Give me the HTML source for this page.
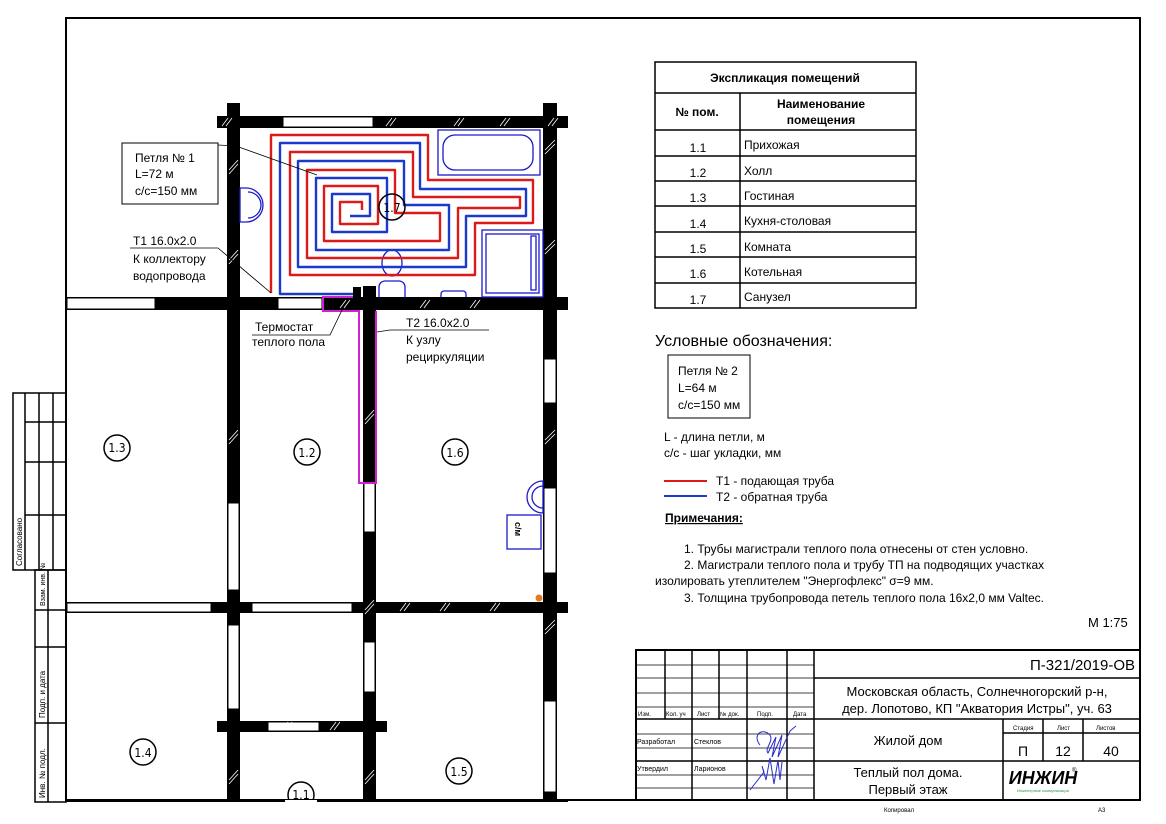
<!DOCTYPE html>
<html><head><meta charset="utf-8"><style>
html,body{margin:0;padding:0;background:#fff;}
svg{display:block;font-family:"Liberation Sans",Arial,sans-serif;}
</style></head><body>
<svg width="1166" height="824" viewBox="0 0 1166 824" xmlns="http://www.w3.org/2000/svg">
<rect width="1166" height="824" fill="#fff"/>
<rect x="66" y="18" width="1074" height="782" fill="none" stroke="#000" stroke-width="2"/>
<g stroke="#000" stroke-width="1.5" fill="none">
<rect x="13" y="393" width="53" height="177"/>
<line x1="25" y1="393" x2="25" y2="570"/><line x1="39" y1="393" x2="39" y2="570"/><line x1="53" y1="393" x2="53" y2="570"/>
<line x1="25" y1="422" x2="66" y2="422"/><line x1="25" y1="462" x2="66" y2="462"/><line x1="25" y1="515" x2="66" y2="515"/>
<rect x="35" y="570" width="31" height="232"/>
<line x1="48" y1="570" x2="48" y2="802"/>
<line x1="35" y1="610" x2="66" y2="610"/><line x1="35" y1="647" x2="66" y2="647"/><line x1="35" y1="723" x2="66" y2="723"/>
</g>
<g font-size="8" fill="#000">
<text transform="translate(22,566) rotate(-90)">Согласовано</text>
<text transform="translate(45,606) rotate(-90)" font-size="7">Взам. инв. №</text>
<text transform="translate(45,718) rotate(-90)">Подп. и дата</text>
<text transform="translate(45,798) rotate(-90)">Инв. № подл.</text>
</g>

<g fill="#000">
<rect x="227" y="103" width="13" height="697"/>
<rect x="543" y="103" width="14" height="697"/>
<rect x="217" y="116" width="351" height="12"/>
<rect x="66" y="297" width="502" height="13"/>
<rect x="363" y="286" width="13" height="514"/>
<rect x="66" y="602" width="502" height="11"/>
<rect x="217" y="721" width="170" height="11"/>
</g>
<g fill="#fff" stroke="#000" stroke-width="1">
<rect x="283" y="117" width="90" height="10"/>
<rect x="67" y="298" width="88" height="11"/>
<rect x="278" y="298" width="44" height="11"/>
<rect x="364" y="311" width="11" height="221"/>
<rect x="67" y="603" width="144" height="9"/>
<rect x="252" y="603" width="100" height="9"/>
<rect x="228" y="503" width="11" height="87"/>
<rect x="228" y="625" width="11" height="84"/>
<rect x="364" y="642" width="11" height="50"/>
<rect x="268" y="722" width="51" height="9"/>
<rect x="544" y="359" width="12" height="44"/>
<rect x="544" y="488" width="12" height="85"/>
<rect x="544" y="701" width="12" height="91"/>
</g>
<rect x="364" y="311" width="11" height="172" fill="#000"/>
<line x1="66" y1="801" x2="568" y2="801" stroke="#000" stroke-width="2"/>
<g stroke="#fff" stroke-width="0.8">
<path d="M222,126l6,-8M226,126l6,-8M386,126l6,-8M390,126l6,-8M454,126l6,-8M458,126l6,-8M500,126l6,-8M504,126l6,-8M548,126l6,-8M552,126l6,-8M229,170l9,-10M229,174l9,-10M229,260l9,-10M229,264l9,-10M545,150l10,-10M545,154l10,-10M545,250l10,-10M545,254l10,-10M545,440l10,-10M545,444l10,-10M545,630l10,-10M545,634l10,-10M365,420l9,-10M365,424l9,-10M365,610l9,-10M365,614l9,-10M229,440l9,-10M229,444l9,-10M229,780l9,-10M229,784l9,-10M365,780l9,-10M365,784l9,-10M400,611l6,-8M404,611l6,-8M440,611l6,-8M444,611l6,-8M490,611l6,-8M494,611l6,-8M282,730l6,-8M286,730l6,-8M330,730l6,-8M334,730l6,-8M340,308l6,-8M344,308l6,-8M420,308l6,-8M424,308l6,-8M470,308l6,-8M474,308l6,-8"/>
</g>

<g fill="none" stroke="#1a1acc" stroke-width="1.3">
<rect x="438" y="130" width="102" height="45"/>
<rect x="443" y="135" width="90" height="35" rx="12"/>
<rect x="482" y="230" width="61" height="67"/>
<rect x="486" y="234" width="53" height="59"/>
<rect x="531" y="236" width="5" height="54"/>
<path d="M240,188 h6 a17,17 0 0 1 0,34 h-6 z"/><path d="M248,192 a13,13 0 0 1 0,26"/>
<ellipse cx="392" cy="263" rx="10" ry="13"/>
<path d="M379,297 v-10 a6,6 0 0 1 6,-6 h14 a6,6 0 0 1 6,6 v10"/>
<path d="M441,297 v-3 a3,3 0 0 1 3,-3 h19 a3,3 0 0 1 3,3 v3"/>
<path d="M543,481 a14,14 0 0 0 0,32 z"/><path d="M543,486 a10,10 0 0 0 0,22"/>
<rect x="507" y="515" width="34" height="34"/>
</g>
<text transform="translate(515,522) rotate(90)" font-size="9" font-weight="bold">с/м</text>
<circle cx="539" cy="598" r="3.5" fill="#e07a20"/>

<g fill="none" stroke-width="2.4" stroke-linejoin="round">
<polyline stroke="#dd1a1a" points="271,293 271,135 428,135 428,180 533,180 533,223 475,223 475,275 290,275 290,152 413,152 413,197 520,197 520,208 458,208 458,258 307,258 307,170 395,170 395,213 440,213 440,241 324,241 324,186 378,186 378,224 340,224 340,202 362,202 362,210"/>
<polyline stroke="#1a3acc" points="353,294 280,294 280,143 420,143 420,189 526,189 526,216 466,216 466,267 298,267 298,161 404,161 404,205 449,205 449,250 316,250 316,178 387,178 387,232 332,232 332,194 370,194 370,216 350,216"/>
</g>
<polyline fill="none" stroke="#d020d0" stroke-width="2" points="353,297 323,297 323,311 359,311 359,483 376,483 376,311"/>
<rect x="353" y="287" width="8" height="10" fill="#000"/>

<g fill="none" stroke="#000" stroke-width="1.5">
<circle cx="117" cy="448" r="13"/><circle cx="307" cy="452" r="13"/><circle cx="455" cy="452" r="13"/>
<circle cx="392" cy="207" r="13"/><circle cx="143" cy="752" r="13"/><circle cx="459" cy="771" r="13"/>
<circle cx="301" cy="795" r="13"/>
</g>
<rect x="285" y="800" width="32" height="10" fill="#fff"/>
<g font-size="12" text-anchor="middle" font-family="'DejaVu Sans Condensed','Liberation Sans',sans-serif">
<text x="117" y="452">1.3</text><text x="307" y="457">1.2</text><text x="455" y="457">1.6</text>
<text x="392" y="212">1.7</text><text x="143" y="757">1.4</text><text x="459" y="776">1.5</text><text x="301" y="799">1.1</text>
</g>

<rect x="122" y="143" width="96" height="61" fill="#fff" stroke="#000" stroke-width="1"/>
<g stroke="#000" stroke-width="0.8" fill="none">
<polyline points="218,145 236,146 317,175"/>
<polyline points="130,248 218,248 271,293"/>
<polyline points="252,335 330,335 342,310"/>
<polyline points="377,332 390,330 489,330"/>
</g>
<g font-size="12" fill="#000">
<text x="135" y="162">Петля № 1</text><text x="135" y="178">L=72 м</text><text x="135" y="195">с/с=150 мм</text>
<text x="133" y="245">Т1 16.0x2.0</text><text x="133" y="263">К коллектору</text><text x="133" y="280">водопровода</text>
<text x="255" y="331">Термостат</text><text x="252" y="346">теплого пола</text>
<text x="406" y="327">Т2 16.0x2.0</text><text x="406" y="344">К узлу</text><text x="406" y="361">рециркуляции</text>
</g>

<g stroke="#000" stroke-width="1.5" fill="none">
<rect x="655" y="62" width="261" height="246"/>
<line x1="655" y1="93" x2="916" y2="93"/><line x1="655" y1="130" x2="916" y2="130"/>
<line x1="655" y1="156" x2="916" y2="156"/><line x1="655" y1="181" x2="916" y2="181"/>
<line x1="655" y1="206" x2="916" y2="206"/><line x1="655" y1="232" x2="916" y2="232"/>
<line x1="655" y1="257" x2="916" y2="257"/><line x1="655" y1="283" x2="916" y2="283"/>
<line x1="740" y1="93" x2="740" y2="308"/>
</g>
<g font-size="12" fill="#000">
<text x="785" y="82" text-anchor="middle" font-weight="bold">Экспликация помещений</text>
<text x="697" y="116" text-anchor="middle" font-weight="bold">№ пом.</text>
<text x="821" y="108" text-anchor="middle" font-weight="bold">Наименование</text>
<text x="821" y="124" text-anchor="middle" font-weight="bold">помещения</text>
<g text-anchor="middle"><text x="698" y="152">1.1</text><text x="698" y="177">1.2</text><text x="698" y="202">1.3</text><text x="698" y="228">1.4</text><text x="698" y="253">1.5</text><text x="698" y="278">1.6</text><text x="698" y="304">1.7</text></g>
<text x="744" y="149">Прихожая</text><text x="744" y="175">Холл</text><text x="744" y="200">Гостиная</text><text x="744" y="225">Кухня-столовая</text><text x="744" y="251">Комната</text><text x="744" y="276">Котельная</text><text x="744" y="301">Санузел</text>
</g>

<text x="655" y="346" font-size="16">Условные обозначения:</text>
<rect x="668" y="355" width="82" height="63" fill="none" stroke="#000" stroke-width="1"/>
<g font-size="12">
<text x="678" y="375">Петля № 2</text><text x="678" y="392">L=64 м</text><text x="678" y="409">с/с=150 мм</text>
<text x="664" y="441">L - длина петли, м</text><text x="664" y="457">с/с - шаг укладки, мм</text>
<text x="716" y="485">Т1 - подающая труба</text><text x="716" y="501">Т2 - обратная труба</text>
<text x="665" y="522" font-weight="bold" text-decoration="underline">Примечания:</text>
<text x="684" y="553">1.   Трубы магистрали теплого пола отнесены от стен условно.</text>
<text x="684" y="569">2.   Магистрали теплого пола и трубу ТП на подводящих участках</text>
<text x="655" y="585">изолировать утеплителем "Энергофлекс" σ=9 мм.</text>
<text x="684" y="602">3.   Толщина трубопровода петель теплого пола 16х2,0 мм Valtec.</text>
<text x="1088" y="627" font-size="13">М 1:75</text>
</g>
<line x1="664" y1="481" x2="707" y2="481" stroke="#dd1a1a" stroke-width="2"/>
<line x1="664" y1="496" x2="707" y2="496" stroke="#1a3acc" stroke-width="2"/>

<g stroke="#000" fill="none">
<rect x="636" y="650" width="504" height="150" stroke-width="2"/>
<g stroke-width="1.5">
<line x1="665" y1="650" x2="665" y2="719"/><line x1="692" y1="650" x2="692" y2="800"/><line x1="719" y1="650" x2="719" y2="719"/>
<line x1="747" y1="650" x2="747" y2="800"/><line x1="787" y1="650" x2="787" y2="800"/><line x1="814" y1="650" x2="814" y2="800"/>
<line x1="814" y1="678" x2="1140" y2="678"/><line x1="814" y1="719" x2="1140" y2="719"/><line x1="814" y1="761" x2="1140" y2="761"/>
<line x1="1003" y1="719" x2="1003" y2="800"/><line x1="1043" y1="719" x2="1043" y2="761"/><line x1="1083" y1="719" x2="1083" y2="761"/>
<line x1="1003" y1="733" x2="1140" y2="733"/>
<line x1="636" y1="719" x2="814" y2="719"/><line x1="636" y1="761" x2="814" y2="761"/>
</g>
<g stroke-width="0.8">
<line x1="636" y1="665" x2="814" y2="665"/><line x1="636" y1="678" x2="814" y2="678"/><line x1="636" y1="693" x2="814" y2="693"/><line x1="636" y1="707" x2="814" y2="707"/>
<line x1="636" y1="734" x2="814" y2="734"/><line x1="636" y1="748" x2="814" y2="748"/><line x1="636" y1="775" x2="814" y2="775"/><line x1="636" y1="788" x2="814" y2="788"/>
</g>
</g>
<g font-size="6" fill="#000">
<text x="638" y="716">Изм.</text><text x="666" y="716">Кол. уч</text><text x="697" y="716">Лист</text><text x="720" y="716">№ док.</text><text x="757" y="716">Подп.</text><text x="793" y="716">Дата</text>
<text x="637" y="744" font-size="7">Разработал</text><text x="694" y="744" font-size="7">Стеклов</text>
<text x="637" y="771" font-size="7">Утвердил</text><text x="694" y="771" font-size="7">Ларионов</text>
<text x="1013" y="730">Стадия</text><text x="1057" y="730">Лист</text><text x="1096" y="730">Листов</text>
<text x="884" y="812">Копировал</text><text x="1098" y="812">А3</text>
</g>
<g fill="#000">
<text x="1135" y="670" font-size="15" text-anchor="end">П-321/2019-ОВ</text>
<text x="977" y="696" font-size="13" text-anchor="middle">Московская область, Солнечногорский р-н,</text>
<text x="977" y="713" font-size="13" text-anchor="middle">дер. Лопотово, КП "Акватория Истры", уч. 63</text>
<text x="908" y="745" font-size="13" text-anchor="middle">Жилой дом</text>
<text x="1023" y="756" font-size="14" text-anchor="middle">П</text>
<text x="1063" y="756" font-size="14" text-anchor="middle">12</text>
<text x="1111" y="756" font-size="14" text-anchor="middle">40</text>
<text x="908" y="777" font-size="13" text-anchor="middle">Теплый пол дома.</text>
<text x="908" y="794" font-size="13" text-anchor="middle">Первый этаж</text>
<text x="1043" y="784" font-size="18" font-weight="bold" text-anchor="middle" font-style="italic">ИНЖИН</text>
<text x="1072" y="772" font-size="6">®</text>
<text x="1043" y="792" font-size="4" fill="#2a9a3a" text-anchor="middle">Инженерные коммуникации</text>
</g>
<g fill="none" stroke="#2a2ad0" stroke-width="1">
<path d="M760,745 c-8,-10 2,-18 10,-10 c4,6 -6,14 -2,18 l8,-16 l-4,20 l10,-22 l-4,22 l12,-26 l6,-5"/>
<path d="M750,790 l14,-18 l-2,-6 l4,14 l4,-22 l4,26 l4,-24 l2,20 l2,-18"/>
</g>
</svg>
</body></html>
